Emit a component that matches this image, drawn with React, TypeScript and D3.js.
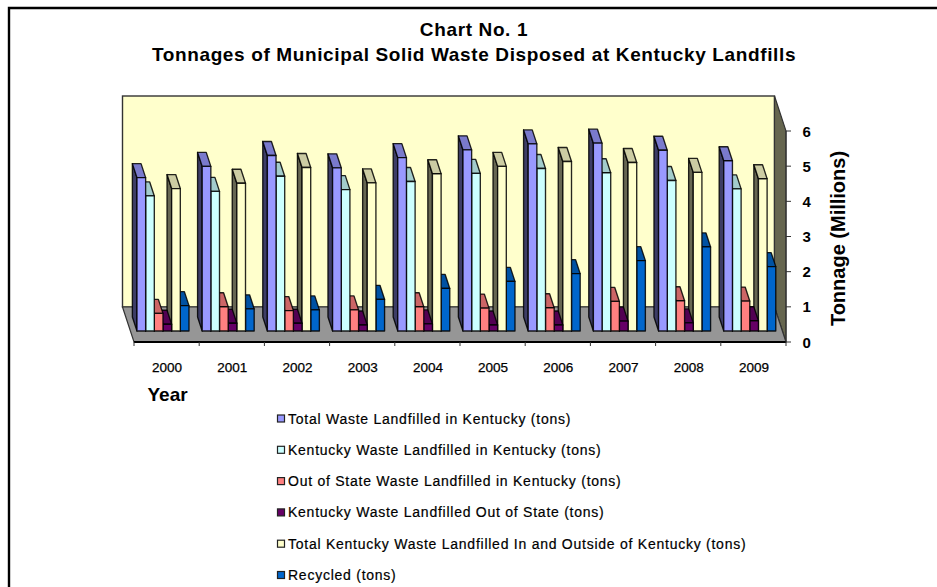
import React from "react";
import * as d3 from "d3";

const years = ["2000","2001","2002","2003","2004","2005","2006","2007","2008","2009"];
const totalLandfilled = [4.36,4.68,4.99,4.64,4.93,5.15,5.32,5.34,5.14,4.84];
const kyLandfilled = [3.84,3.97,4.40,4.02,4.25,4.48,4.62,4.50,4.28,4.04];
const outOfState = [0.50,0.69,0.58,0.60,0.69,0.65,0.66,0.84,0.86,0.85];
const kyOutOfState = [0.19,0.22,0.22,0.17,0.20,0.17,0.17,0.28,0.23,0.29];
const totalKy = [4.05,4.20,4.65,4.21,4.47,4.68,4.82,4.79,4.51,4.33];
const recycled = [0.72,0.63,0.60,0.90,1.21,1.41,1.63,2.00,2.39,1.83];
const yTicks = [0,1,2,3,4,5,6];

const seriesNames = [
  "Total Waste Landfilled in Kentucky (tons)",
  "Kentucky Waste Landfilled in Kentucky (tons)",
  "Out of State Waste Landfilled in Kentucky (tons)",
  "Kentucky Waste Landfilled Out of State (tons)",
  "Total Kentucky Waste Landfilled In and Outside of Kentucky (tons)",
  "Recycled (tons)",
];
const seriesValues = [totalLandfilled, kyLandfilled, outOfState, kyOutOfState, totalKy, recycled];
const colors = ["#9999FF","#CCFFFF","#FF8080","#660066","#FFFFCC","#0066CC"];

const W = 937, H = 587;
const FONT = "'Liberation Sans', Arial, sans-serif";

// plot geometry
const x0 = 134, x1 = 786, y0 = 342, y6 = 131;
const depthX = -11.5, depthY = -35;
const barStart = 0.315, barEnd = 0.715; // depth fractions of bars on the floor

const xScale = d3.scaleBand<string>().domain(years).range([x0, x1]).paddingInner(0).paddingOuter(0);
const barScale = d3.scaleBand<number>().domain(d3.range(6)).range([6.6, xScale.bandwidth() - 6.6]);
const yScale = d3.scaleLinear().domain([0, 6]).range([y0, y6]);
const poly = d3.line<[number, number]>().curve(d3.curveLinearClosed);

const darken = (c: string, k: number) => {
  const r = d3.rgb(c);
  return d3.rgb(r.r * k, r.g * k, r.b * k).formatHex();
};

function Bar({ year, si, v }: { year: string; si: number; v: number }) {
  const fx = xScale(year)! + barScale(si)! + depthX * barStart;
  const w = barScale.bandwidth();
  const baseY = y0 + depthY * barStart;
  const topY = baseY - (y0 - yScale(v));
  const dx = depthX * (barEnd - barStart);
  const dy = depthY * (barEnd - barStart);
  const c = colors[si];
  const common = { stroke: "#000", strokeWidth: 1.35, strokeLinejoin: "round" as const, strokeOpacity: 0.85 };
  return (
    <g>
      <path d={poly([[fx, baseY],[fx, topY],[fx + dx, topY + dy],[fx + dx, baseY + dy]])!} fill={darken(c, 0.4)} {...common} />
      <path d={poly([[fx, topY],[fx + dx, topY + dy],[fx + w + dx, topY + dy],[fx + w, topY]])!} fill={darken(c, 0.8)} {...common} />
      <rect x={fx} y={topY} width={w} height={baseY - topY} fill={c} {...common} />
    </g>
  );
}

export default function App() {
  const legendY = d3.scalePoint<string>().domain(seriesNames).range([418.5, 575]);
  const wallTop = yScale(6) + depthY;
  return (
    <svg width={W} height={H} viewBox={`0 0 ${W} ${H}`} style={{ position: "fixed", left: 0, top: 0, background: "#fff" }} fontFamily={FONT}>
      <path d={`M9 ${H}V8H${W}`} fill="none" stroke="#000" strokeWidth={2.4} />
      <text x={474} y={36} textAnchor="middle" fontSize={19} fontWeight={700} letterSpacing={0.63}>Chart No. 1</text>
      <text x={474} y={61} textAnchor="middle" fontSize={19} fontWeight={700} letterSpacing={0.63}>Tonnages of Municipal Solid Waste Disposed at Kentucky Landfills</text>

      {/* back wall, floor, right wall */}
      <rect x={x0 + depthX} y={wallTop} width={x1 - x0} height={y0 - y6} fill="#FFFFCC" stroke="#333" strokeWidth={1.4} />
      <path d={poly([[x1 + depthX, wallTop],[x1, y6],[x1, y0],[x1 + depthX, y0 + depthY]])!} fill="#66664F" stroke="#333" strokeWidth={1.2} />
      <path d={poly([[x0 + depthX, y0 + depthY],[x1 + depthX, y0 + depthY],[x1, y0],[x0, y0]])!} fill="#969696" stroke="#333" strokeWidth={1.2} />

      {/* axes */}
      <line x1={x0} x2={x1} y1={y0} y2={y0} stroke="#000" strokeWidth={1.8} />
      <line x1={x1} x2={x1} y1={y0} y2={y6} stroke="#333" strokeWidth={1} />
      {years.map((y) => (
        <line key={y} x1={xScale(y)!} x2={xScale(y)!} y1={y0} y2={y0 + 4} stroke="#333" />
      ))}
      <line x1={x1} x2={x1} y1={y0} y2={y0 + 4} stroke="#333" />
      {yTicks.map((t) => (
        <g key={t}>
          <line x1={x1} x2={x1 + 5} y1={yScale(t)} y2={yScale(t)} stroke="#333" />
          <text x={802.5} y={yScale(t) + 5.5} fontSize={15} fontWeight={700} textAnchor="start">{t}</text>
        </g>
      ))}

      {/* bars: right to left so each bar masks its neighbour's depth faces */}
      {[...years].reverse().map((year) => {
        const i = years.indexOf(year);
        return (
          <g key={year}>
            {d3.range(5, -1, -1).map((si) => (
              <Bar key={si} year={year} si={si} v={seriesValues[si][i]} />
            ))}
          </g>
        );
      })}

      {years.map((y) => (
        <text key={y} x={xScale(y)! + xScale.bandwidth() / 2 + 0.5} y={372} textAnchor="middle" fontSize={13.5} stroke="#000" strokeWidth={0.25}>{y}</text>
      ))}
      <text x={147.5} y={400.5} fontSize={19} fontWeight={700}>Year</text>
      <text transform="translate(845,238.5) rotate(-90)" textAnchor="middle" fontSize={20} fontWeight={700}>Tonnage (Millions)</text>

      {seriesNames.map((n, i) => (
        <g key={n}>
          <rect x={277.5} y={legendY(n)! - 3.5} width={7} height={7} fill={colors[i]} stroke="#222" strokeWidth={1.2} />
          <text x={288} y={legendY(n)! + 5} fontSize={14} letterSpacing={0.75} stroke="#000" strokeWidth={0.2}>{n}</text>
        </g>
      ))}
    </svg>
  );
}
